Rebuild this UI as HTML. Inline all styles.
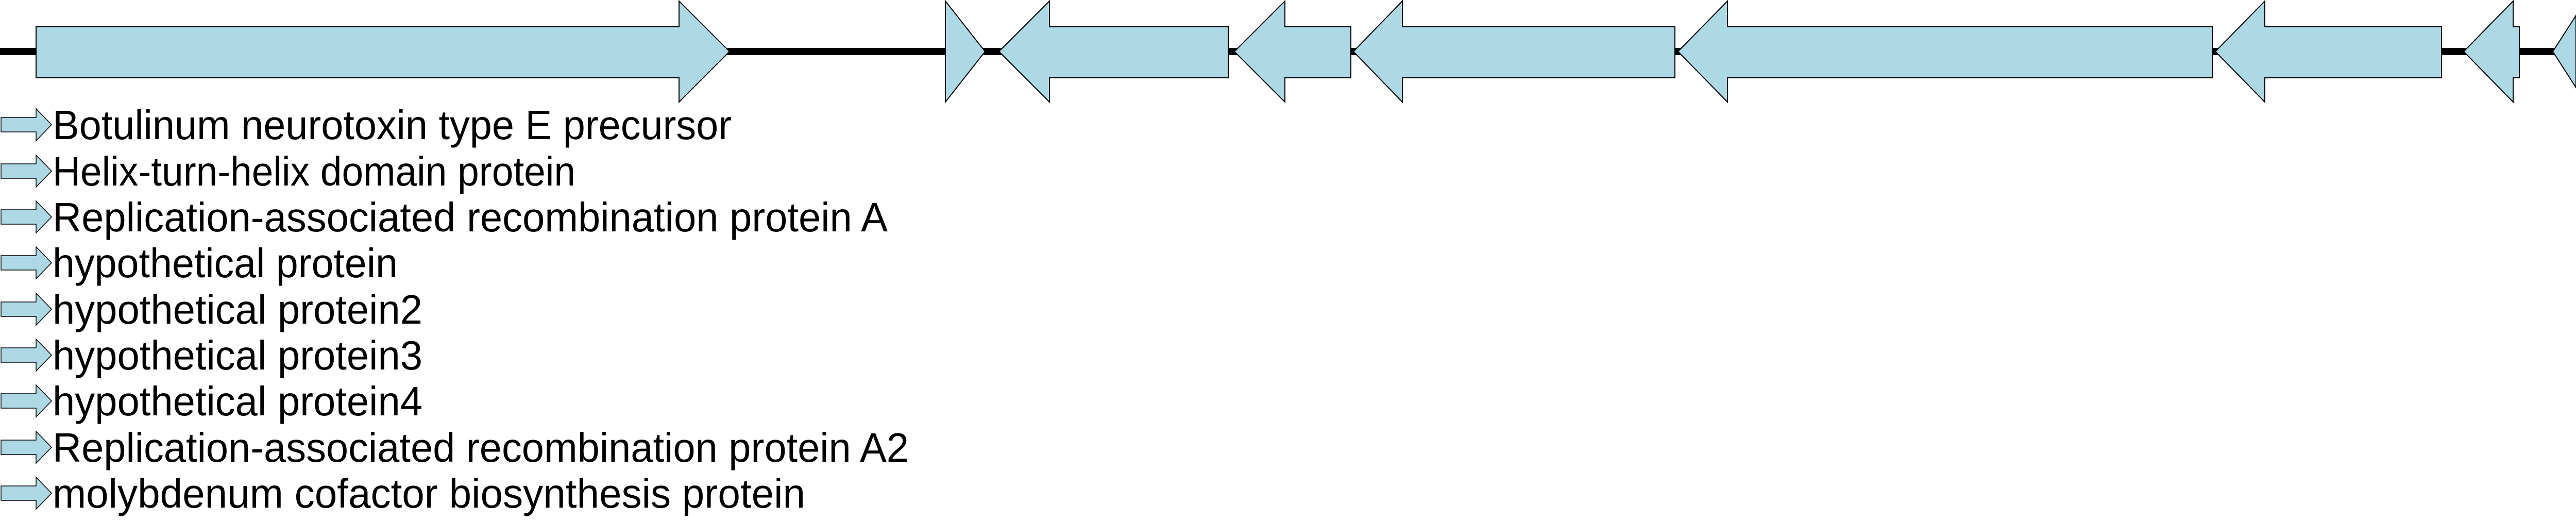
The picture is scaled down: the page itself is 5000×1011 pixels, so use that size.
<!DOCTYPE html>
<html><head><meta charset="utf-8"><style>
html,body{margin:0;padding:0;background:#fff;}
svg{display:block;}
text{font-family:"Liberation Sans",sans-serif;font-size:80px;fill:#000;}
</style></head><body>
<svg width="5000" height="1011" viewBox="0 0 5000 1011" xmlns="http://www.w3.org/2000/svg">
<rect x="0" y="93" width="5000" height="14" fill="#000"/>
<g fill="#add8e6" stroke="#000" stroke-width="2">
<polygon points="70,52 1318,52 1318,2 1416,100 1318,198 1318,151 70,151"/>
<polygon points="1835,2 1912,100 1835,198"/>
<polygon points="1939,100 2037,2 2037,52 2384,52 2384,151 2037,151 2037,198"/>
<polygon points="2396,100 2494,2 2494,52 2622,52 2622,151 2494,151 2494,198"/>
<polygon points="2627,100 2722,2 2722,52 3251,52 3251,151 2722,151 2722,198"/>
<polygon points="3257,100 3353,2 3353,52 4294,52 4294,151 3353,151 3353,198"/>
<polygon points="4300,100 4396,2 4396,52 4739,52 4739,151 4396,151 4396,198"/>
<polygon points="4782,100 4878,2 4878,52 4890,52 4890,151 4878,151 4878,198"/>
<polygon points="4955,100 5000,30 5000,170"/>
</g>
<g fill="#add8e6" stroke="#000" stroke-width="1.5">
<polygon points="2,228 70,228 70,211 100,242 70,273 70,256 2,256"/>
<polygon points="2,318 70,318 70,301 100,332 70,363 70,346 2,346"/>
<polygon points="2,407 70,407 70,390 100,421 70,452 70,435 2,435"/>
<polygon points="2,496 70,496 70,479 100,510 70,541 70,524 2,524"/>
<polygon points="2,586 70,586 70,569 100,600 70,631 70,614 2,614"/>
<polygon points="2,675 70,675 70,658 100,689 70,720 70,703 2,703"/>
<polygon points="2,764 70,764 70,747 100,778 70,809 70,792 2,792"/>
<polygon points="2,854 70,854 70,837 100,868 70,899 70,882 2,882"/>
<polygon points="2,943 70,943 70,926 100,957 70,988 70,971 2,971"/>
</g>
<text x="102" y="270" textLength="1318" lengthAdjust="spacingAndGlyphs">Botulinum neurotoxin type E precursor</text>
<text x="102" y="360" textLength="1015" lengthAdjust="spacingAndGlyphs">Helix-turn-helix domain protein</text>
<text x="102" y="449" textLength="1621" lengthAdjust="spacingAndGlyphs">Replication-associated recombination protein A</text>
<text x="102" y="538" textLength="670" lengthAdjust="spacingAndGlyphs">hypothetical protein</text>
<text x="102" y="628" textLength="718" lengthAdjust="spacingAndGlyphs">hypothetical protein2</text>
<text x="102" y="717" textLength="718" lengthAdjust="spacingAndGlyphs">hypothetical protein3</text>
<text x="102" y="806" textLength="718" lengthAdjust="spacingAndGlyphs">hypothetical protein4</text>
<text x="102" y="896" textLength="1662" lengthAdjust="spacingAndGlyphs">Replication-associated recombination protein A2</text>
<text x="102" y="985" textLength="1461" lengthAdjust="spacingAndGlyphs">molybdenum cofactor biosynthesis protein</text>
</svg>
</body></html>
